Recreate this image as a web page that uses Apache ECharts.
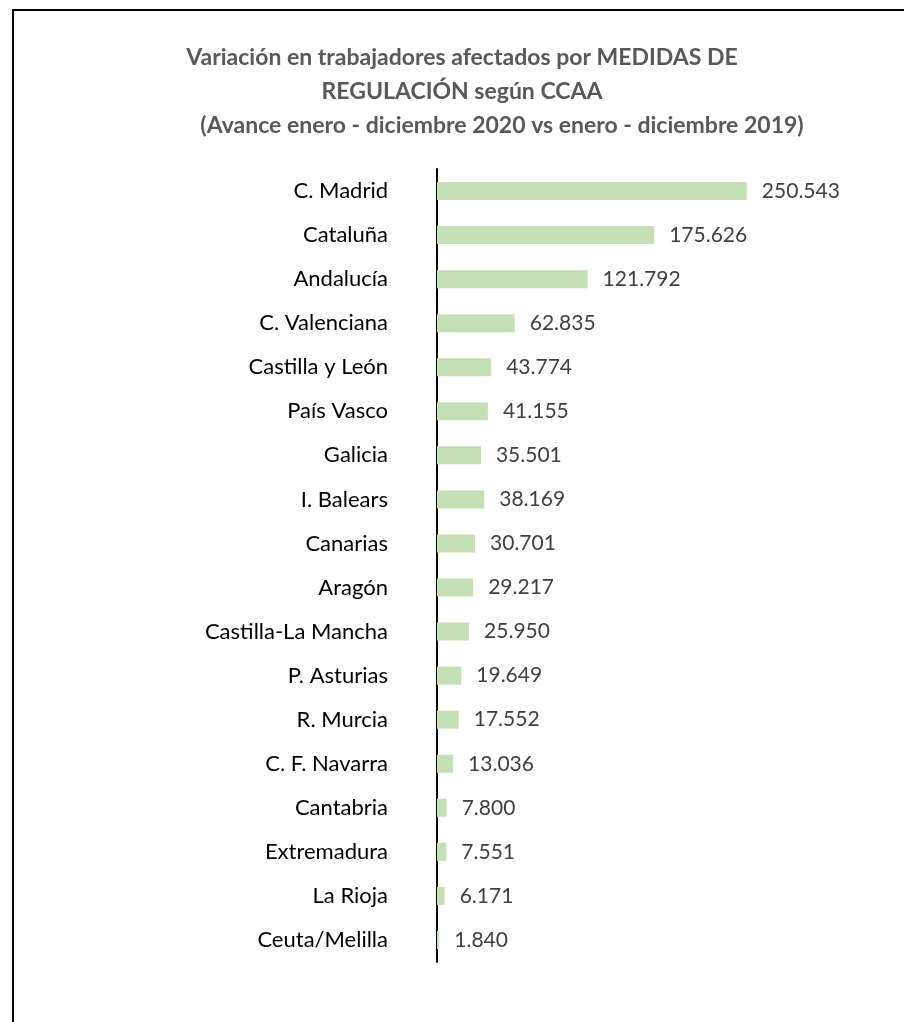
<!DOCTYPE html>
<html>
<head>
<meta charset="utf-8">
<script src="https://cdn.jsdelivr.net/npm/echarts@6/dist/echarts.min.js"></script>
<style>
html, body { margin: 0; padding: 0; background: #fff; }
#chart { width: 904px; height: 1022px; }
</style>
</head>
<body>
<div id="chart"></div>
<script>
// comunidades autónomas, de arriba abajo
var regiones = ['C. Madrid', 'Cataluña', 'Andalucía', 'C. Valenciana', 'Castilla y León',
	'País Vasco', 'Galicia', 'I. Balears', 'Canarias', 'Aragón', 'Castilla-La Mancha',
	'P. Asturias', 'R. Murcia', 'C. F. Navarra', 'Cantabria', 'Extremadura', 'La Rioja', 'Ceuta/Melilla'];
// variación en trabajadores afectados
var variacion = [250543, 175626, 121792, 62835, 43774, 41155, 35501, 38169, 30701, 29217,
	25950, 19649, 17552, 13036, 7800, 7551, 6171, 1840];

var titulos = [
	'Variación en trabajadores afectados por MEDIDAS DE',
	'REGULACIÓN según CCAA',
	'(Avance enero - diciembre 2020 vs enero - diciembre 2019)'
];

// separador de miles con punto
function miles(v) {
	return String(v).replace(/\B(?=(\d{3})+(?!\d))/g, '.');
}

var chart = echarts.init(document.getElementById('chart'));
var tituloStyle = { fontFamily: 'Lato', fontWeight: 'bold', fontSize: 23, color: '#595959' };

chart.setOption({
	backgroundColor: '#fff',
	title: [
		{ text: titulos[0], left: 457, top: 41, textAlign: 'center', textStyle: tituloStyle },
		{ text: titulos[1], left: 457, top: 75, textAlign: 'center', textStyle: tituloStyle },
		{ text: titulos[2], left: 497, top: 109, textAlign: 'center', textStyle: tituloStyle }
	],
	graphic: [{
		type: 'rect',
		shape: { x: 13, y: 10, width: 1000, height: 1100 },
		style: { fill: 'none', stroke: '#000', lineWidth: 2 },
		silent: true
	}],
	grid: { left: 437, top: 169, width: 371, bottom: 60 },
	xAxis: {
		type: 'value',
		min: 0,
		max: 300000,
		show: false
	},
	yAxis: {
		type: 'category',
		data: regiones,
		inverse: true,
		axisLine: { show: true, lineStyle: { color: '#000', width: 2 } },
		axisTick: { show: false },
		axisLabel: { margin: 49, fontFamily: 'Lato', fontSize: 22, color: '#000' }
	},
	series: [{
		type: 'bar',
		data: variacion,
		barWidth: 18,
		itemStyle: { color: '#c5e0b4' },
		label: {
			show: true,
			position: 'right',
			distance: 15,
			fontFamily: 'Lato',
			fontSize: 21,
			color: '#404040',
			formatter: function(p) { return miles(p.value); }
		}
	}]
});
</script>
</body>
</html>
